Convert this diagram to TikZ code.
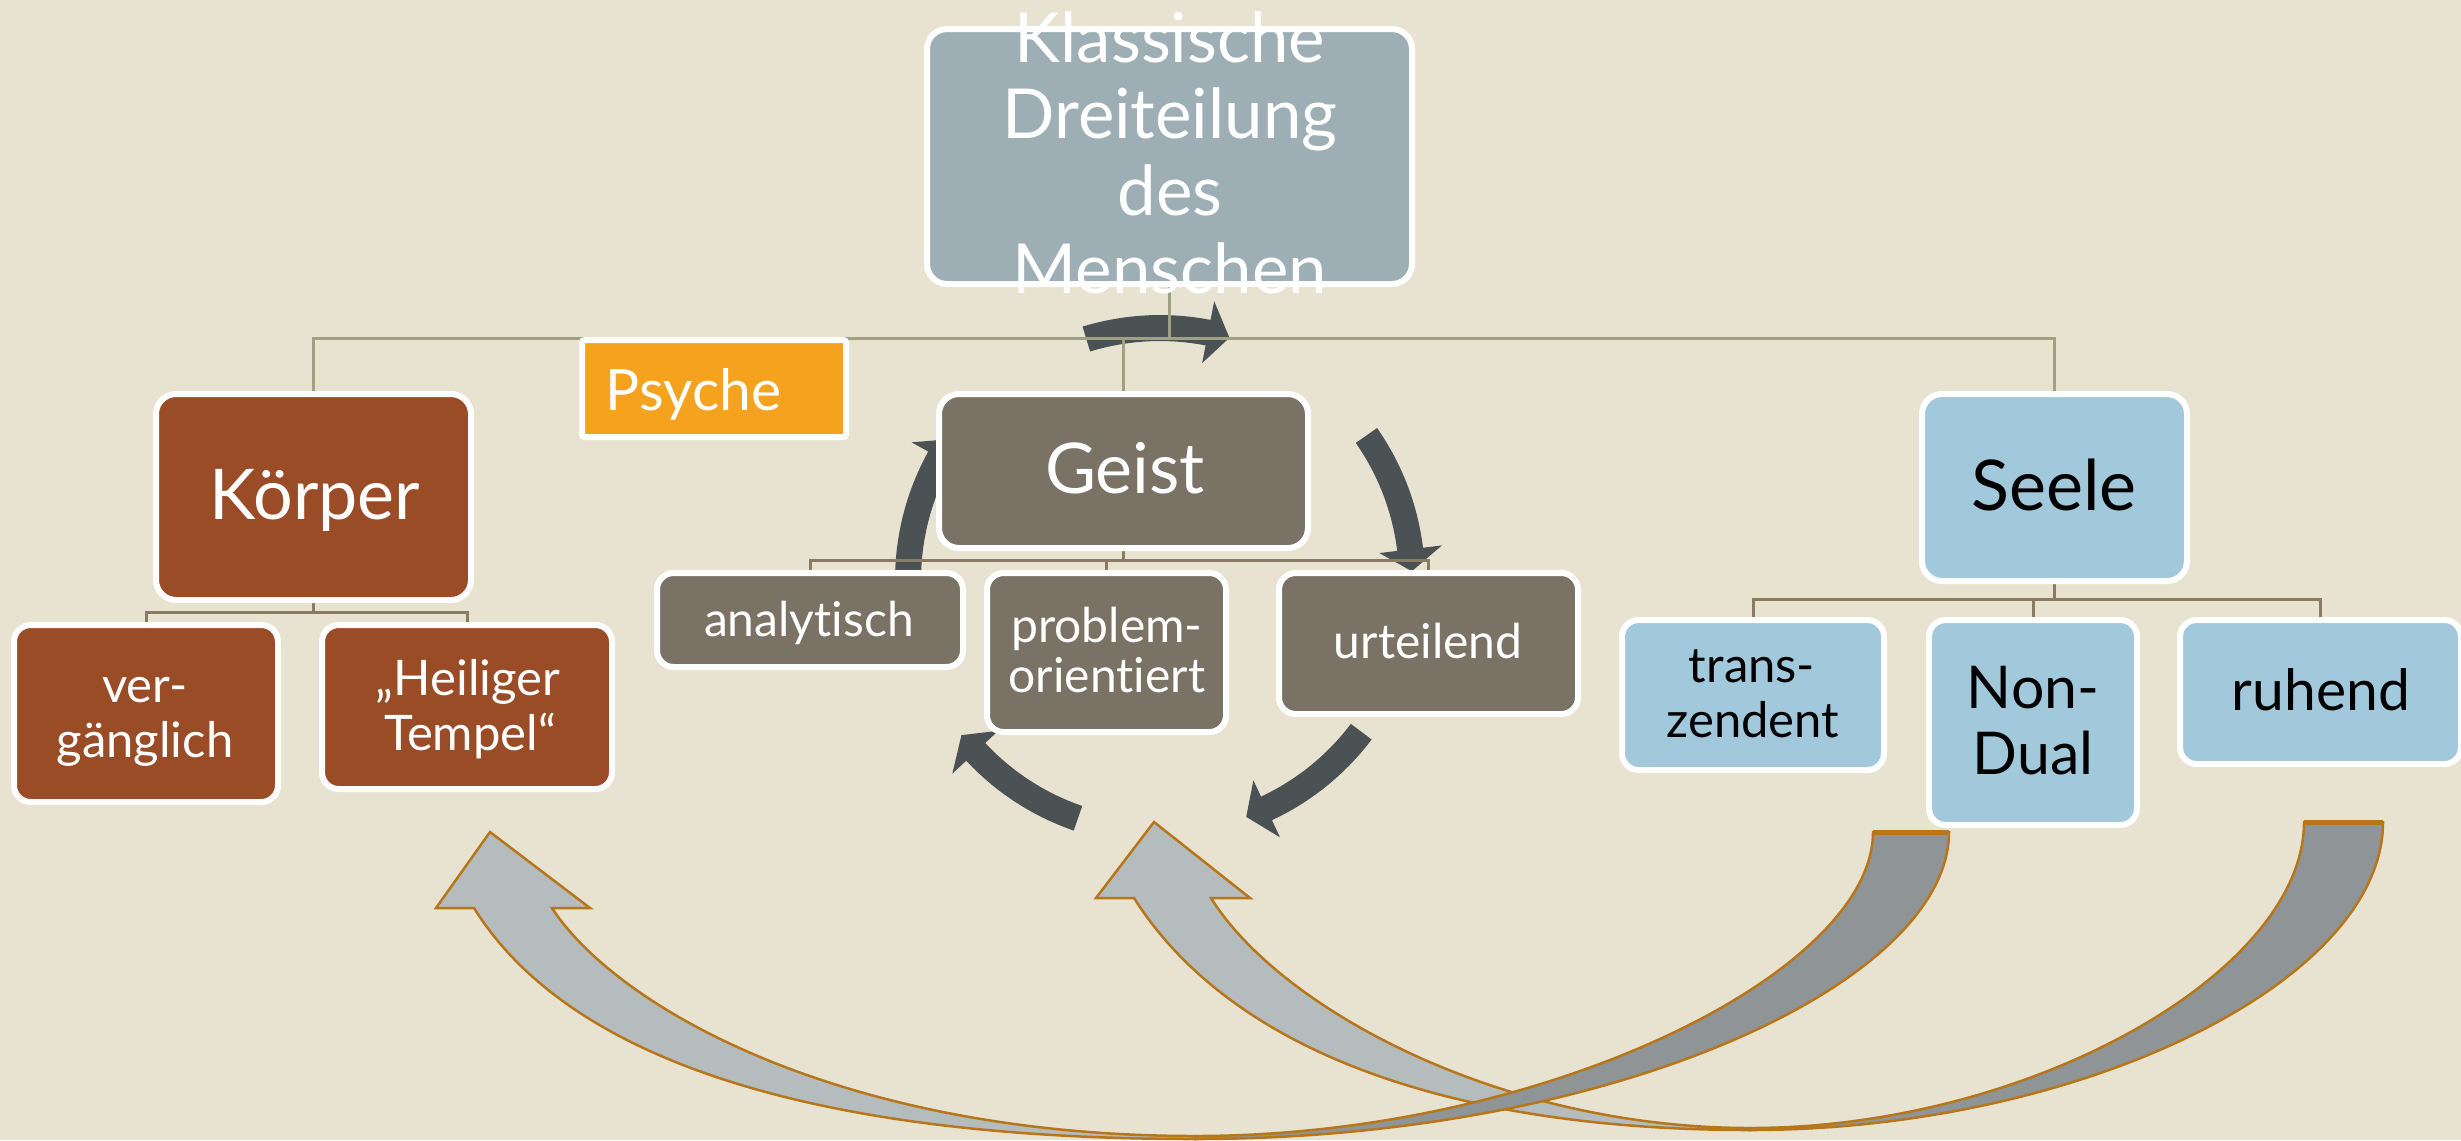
\documentclass[tikz,border=0pt]{standalone}
\usepackage{fontspec}
\setmainfont{Lato}[Ligatures={NoCommon,NoRequired,NoContextual}]
\definecolor{bgc}{HTML}{E8E3D1}
\definecolor{titleC}{HTML}{9DAFB5}
\definecolor{brownC}{HTML}{9A4C27}
\definecolor{taupeC}{HTML}{7A7265}
\definecolor{blueC}{HTML}{A2C8DC}
\definecolor{orangeC}{HTML}{F5A31F}
\definecolor{lineA}{HTML}{A0A082}
\definecolor{lineB}{HTML}{8A7C64}
\definecolor{cycC}{HTML}{4A5254}
\definecolor{arrLight}{HTML}{B4BCBE}
\definecolor{arrDark}{HTML}{8F9597}
\definecolor{arrLine}{HTML}{B8761A}
\newcommand\fsT{\fontsize{20.7}{24}\selectfont}
\newcommand\fsB{\fontsize{21}{24}\selectfont}
\newcommand\fsK{\fontsize{14.7}{17}\selectfont}
\newcommand\fsG{\fontsize{14.4}{17}\selectfont}
\newcommand\fsN{\fontsize{17.7}{20}\selectfont}
\newcommand\fsR{\fontsize{17.1}{20}\selectfont}
\newcommand\fsP{\fontsize{17.1}{20}\selectfont}
\pgfdeclarelayer{backl}
\pgfdeclarelayer{linesl}
\pgfsetlayers{backl,linesl,main}
\begin{document}
\begin{tikzpicture}[x=0.3pt,y=-0.3pt,
  box/.style={draw=white, line width=1.8pt, inner sep=0pt, rounded corners=6pt},
  kid/.style={box, rounded corners=5pt},
  txt/.style={inner sep=0pt, anchor=base},
  topline/.style={draw=lineA, line width=0.9pt},
  subline/.style={draw=lineB, line width=0.9pt},
  cyc/.style={fill=cycC},
  front/.style={fill=arrLight, draw=arrLine, line width=0.75pt},
  back/.style={fill=arrDark, draw=arrLine, line width=0.75pt},
  capline/.style={draw=arrLine, line width=1.5pt}
]
\useasboundingbox (0,0) rectangle (2461,1140);
\clip (0,0) rectangle (2461,1140);

% ---------- boxes ----------
\node[box, fill=titleC, minimum width=145.5pt, minimum height=76.5pt] (title) at (1169.5,156.5) {};
\node[box, fill=brownC, minimum width=94.5pt, minimum height=61.8pt] (koerper) at (313.5,497) {};
\node[kid, fill=brownC, minimum width=79.2pt, minimum height=53.1pt] (verg) at (146,713.5) {};
\node[kid, fill=brownC, minimum width=87pt, minimum height=49.2pt] (heil) at (467,707) {};
\node[box, fill=taupeC, minimum width=110.7pt, minimum height=46.2pt] (geist) at (1123.5,471) {};
\node[kid, fill=taupeC, minimum width=91.8pt, minimum height=28.2pt] (analyt) at (810,620) {};
\node[kid, fill=taupeC, minimum width=71.7pt, minimum height=47.7pt] (problem) at (1106.5,652.5) {};
\node[kid, fill=taupeC, minimum width=89.7pt, minimum height=42.3pt] (urteil) at (1428.5,643.5) {};
\node[box, fill=blueC, minimum width=79.5pt, minimum height=56.1pt] (seele) at (2054.5,487.5) {};
\node[kid, fill=blueC, minimum width=78.6pt, minimum height=45pt] (trans) at (1753,695) {};
\node[kid, fill=blueC, minimum width=62.4pt, minimum height=61.5pt] (nondual) at (2033,722.5) {};
\node[kid, fill=blueC, minimum width=84.3pt, minimum height=43.2pt] (ruhend) at (2320.5,692) {};
\node[box, fill=orangeC, rounded corners=0.8pt, minimum width=79.2pt, minimum height=29.1pt] (psyche) at (714,388.5) {};

% ---------- texts ----------
\node[txt, white, font=\fsT] (t1) at (1170,62) {Klassische};
\node[txt, white, font=\fsT] (t2) at (1170,138) {Dreiteilung};
\node[txt, white, font=\fsT] (t3) at (1170,215) {des};
\node[txt, white, font=\fsT] (t4) at (1170,293) {Menschen};
\node[txt, white, font=\fsB] (tk) at (315,519) {Körper};
\node[txt, white, font=\fsK] (tv1) at (145,702) {ver-};
\node[txt, white, font=\fsK] (tv2) at (145,757) {gänglich};
\node[txt, white, font=\fsK] (th1) at (468,695) {„Heiliger};
\node[txt, white, font=\fsK] (th2) at (470,750) {Tempel“};
\node[txt, white, font=\fsP, anchor=base west] (tp) at (605,410) {Psyche};
\node[txt, white, font=\fsB] (tg) at (1125,493) {Geist};
\node[txt, white, font=\fsG] (ta) at (809,636) {analytisch};
\node[txt, white, font=\fsG] (tpr1) at (1107,642) {problem-};
\node[txt, white, font=\fsG] (tpr2) at (1107,692) {orientiert};
\node[txt, white, font=\fsG] (tu) at (1428,658) {urteilend};
\node[txt, black, font=\fsB] (ts) at (2054,510) {Seele};
\node[txt, black, font=\fsK] (ttr1) at (1752,682) {trans-};
\node[txt, black, font=\fsK] (ttr2) at (1753,737) {zendent};
\node[txt, black, font=\fsN] (tn1) at (2033,708) {Non-};
\node[txt, black, font=\fsN] (tn2) at (2033,774) {Dual};
\node[txt, black, font=\fsR] (tr) at (2321,710) {ruhend};

% ---------- background and cycle arrows ----------
\begin{pgfonlayer}{backl}
\fill[bgc] (0,0) rectangle (2461,1140);
\foreach \c in {90,18,-54,-126,-198} {
  \pgfmathsetmacro\s{\c+17}
  \pgfmathsetmacro\b{\c-11}
  \pgfmathsetmacro\t{\c-16}
  \fill[cyc] plot[domain=\s:\b, samples=16] ({1160+265*cos(\x)},{580-265*sin(\x)})
     -- ({1160+284*cos(\b)},{580-284*sin(\b)})
     -- ({1160+252*cos(\t)},{580-252*sin(\t)})
     -- ({1160+221*cos(\b)},{580-221*sin(\b)})
     -- plot[domain=\b:\s, samples=16] ({1160+239*cos(\x)},{580-239*sin(\x)})
     -- cycle;
}
\end{pgfonlayer}

% ---------- connectors ----------
\begin{pgfonlayer}{linesl}
\coordinate (tb) at (title.south |- 0,338);
\draw[topline] (title.south) -- (tb);
\draw[topline] (tb) -| (koerper.north);
\draw[topline] (tb) -| (geist.north);
\draw[topline] (tb) -| (seele.north);
\coordinate (kb) at (koerper.south |- 0,612);
\draw[subline] (koerper.south) -- (kb);
\draw[subline] (kb) -| (verg.north);
\draw[subline] (kb) -| (heil.north);
\coordinate (gb) at (geist.south |- 0,560);
\draw[subline] (geist.south) -- (gb);
\draw[subline] (gb) -| (analyt.north);
\draw[subline] (gb) -| (problem.north);
\draw[subline] (gb) -| (urteil.north);
\coordinate (sb) at (seele.south |- 0,599);
\draw[subline] (seele.south) -- (sb);
\draw[subline] (sb) -| (trans.north);
\draw[subline] (sb) -| (nondual.north);
\draw[subline] (sb) -| (ruhend.north);
\end{pgfonlayer}

% ---------- big curved arrows ----------
% arrow from ruhend
\filldraw[back] (2304,822) -- (2383,822) .. controls (2383,982) and (2080,1130) .. (1750,1130)
  -- (1750,1128) .. controls (2030,1128) and (2304,972) .. (2304,822) -- cycle;
\draw[capline] (2304,822) -- (2383,822);
\filldraw[front] (1134,898) -- (1096,898) -- (1154,822) -- (1250,898) -- (1211,898)
  .. controls (1280,1008.5) and (1500,1128) .. (1750,1128) -- (1750,1130)
  .. controls (1450,1130) and (1231,1051) .. (1134,898) -- cycle;
% arrow from Non-Dual
\filldraw[back] (1873,832) -- (1949,832) .. controls (1949,982) and (1615,1139) .. (1195,1139)
  -- (1195,1136) .. controls (1545,1136) and (1873,972) .. (1873,832) -- cycle;
\draw[capline] (1873,832) -- (1949,832);
\filldraw[front] (474,908) -- (436,908) -- (490,832) -- (590,908) -- (552,908)
  .. controls (618,1009) and (845,1136) .. (1195,1136) -- (1195,1139)
  .. controls (795,1139) and (564,1052.5) .. (474,908) -- cycle;
\end{tikzpicture}
\end{document}
